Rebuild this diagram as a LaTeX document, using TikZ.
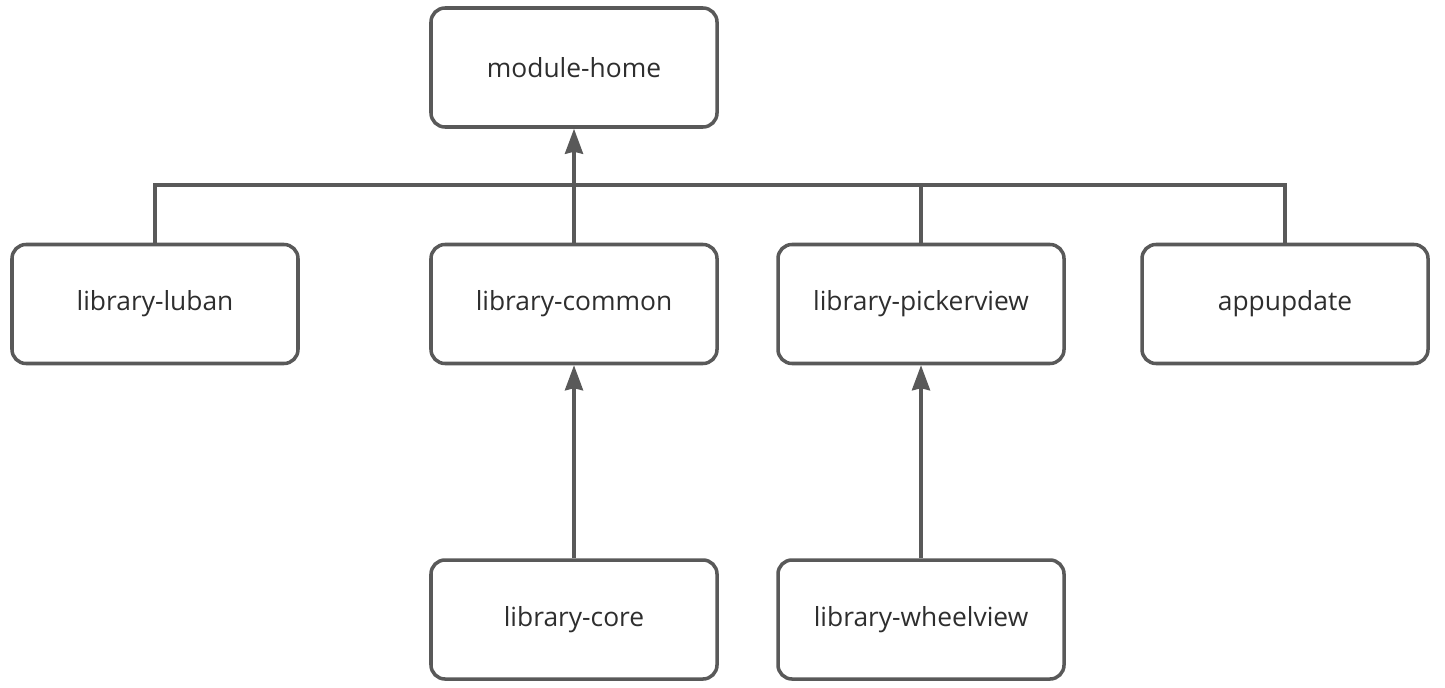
\documentclass[tikz,border=0pt]{standalone}
\usepackage{fontspec}
\setmainfont{Open Sans}
\usetikzlibrary{arrows.meta}
\definecolor{linegray}{HTML}{595959}
\definecolor{textgray}{HTML}{2E2E2E}
\tikzset{
  modbox/.style={draw=linegray, line width=2pt, rounded corners=0.28cm,
    minimum width=5.72cm, minimum height=2.38cm, text=textgray, font=\fontsize{15}{17}\selectfont},
  link/.style={draw=linegray, line width=2pt},
  dep/.style={link, -{Stealth[length=0.5cm, width=0.36cm, inset=0.04cm]}}
}
\begin{document}
\begin{tikzpicture}
\useasboundingbox (0,0) rectangle (28.9,-13.74);
\node[modbox] (home) at (11.48,-1.35) {module-home};
\node[modbox] (luban) at (3.1,-6.08) {library-luban};
\node[modbox] (common) at (11.48,-6.08) {library-common};
\node[modbox] (picker) at (18.42,-6.08) {library-pickerview};
\node[modbox] (appupdate) at (25.7,-6.08) {appupdate};
\node[modbox] (core) at (11.48,-12.39) {library-core};
\node[modbox] (wheel) at (18.42,-12.39) {library-wheelview};
\coordinate (bus) at (11.48,-3.7);
% bus line
\draw[link] (luban.north) |- (bus) -| (appupdate.north);
\draw[link] (common.north) -- (bus);
\draw[link] (picker.north) -- (picker.north |- bus);
\draw[dep] (bus) -- (home.south);
\draw[dep] (core) -- (common);
\draw[dep] (wheel) -- (picker);
\end{tikzpicture}
\end{document}
